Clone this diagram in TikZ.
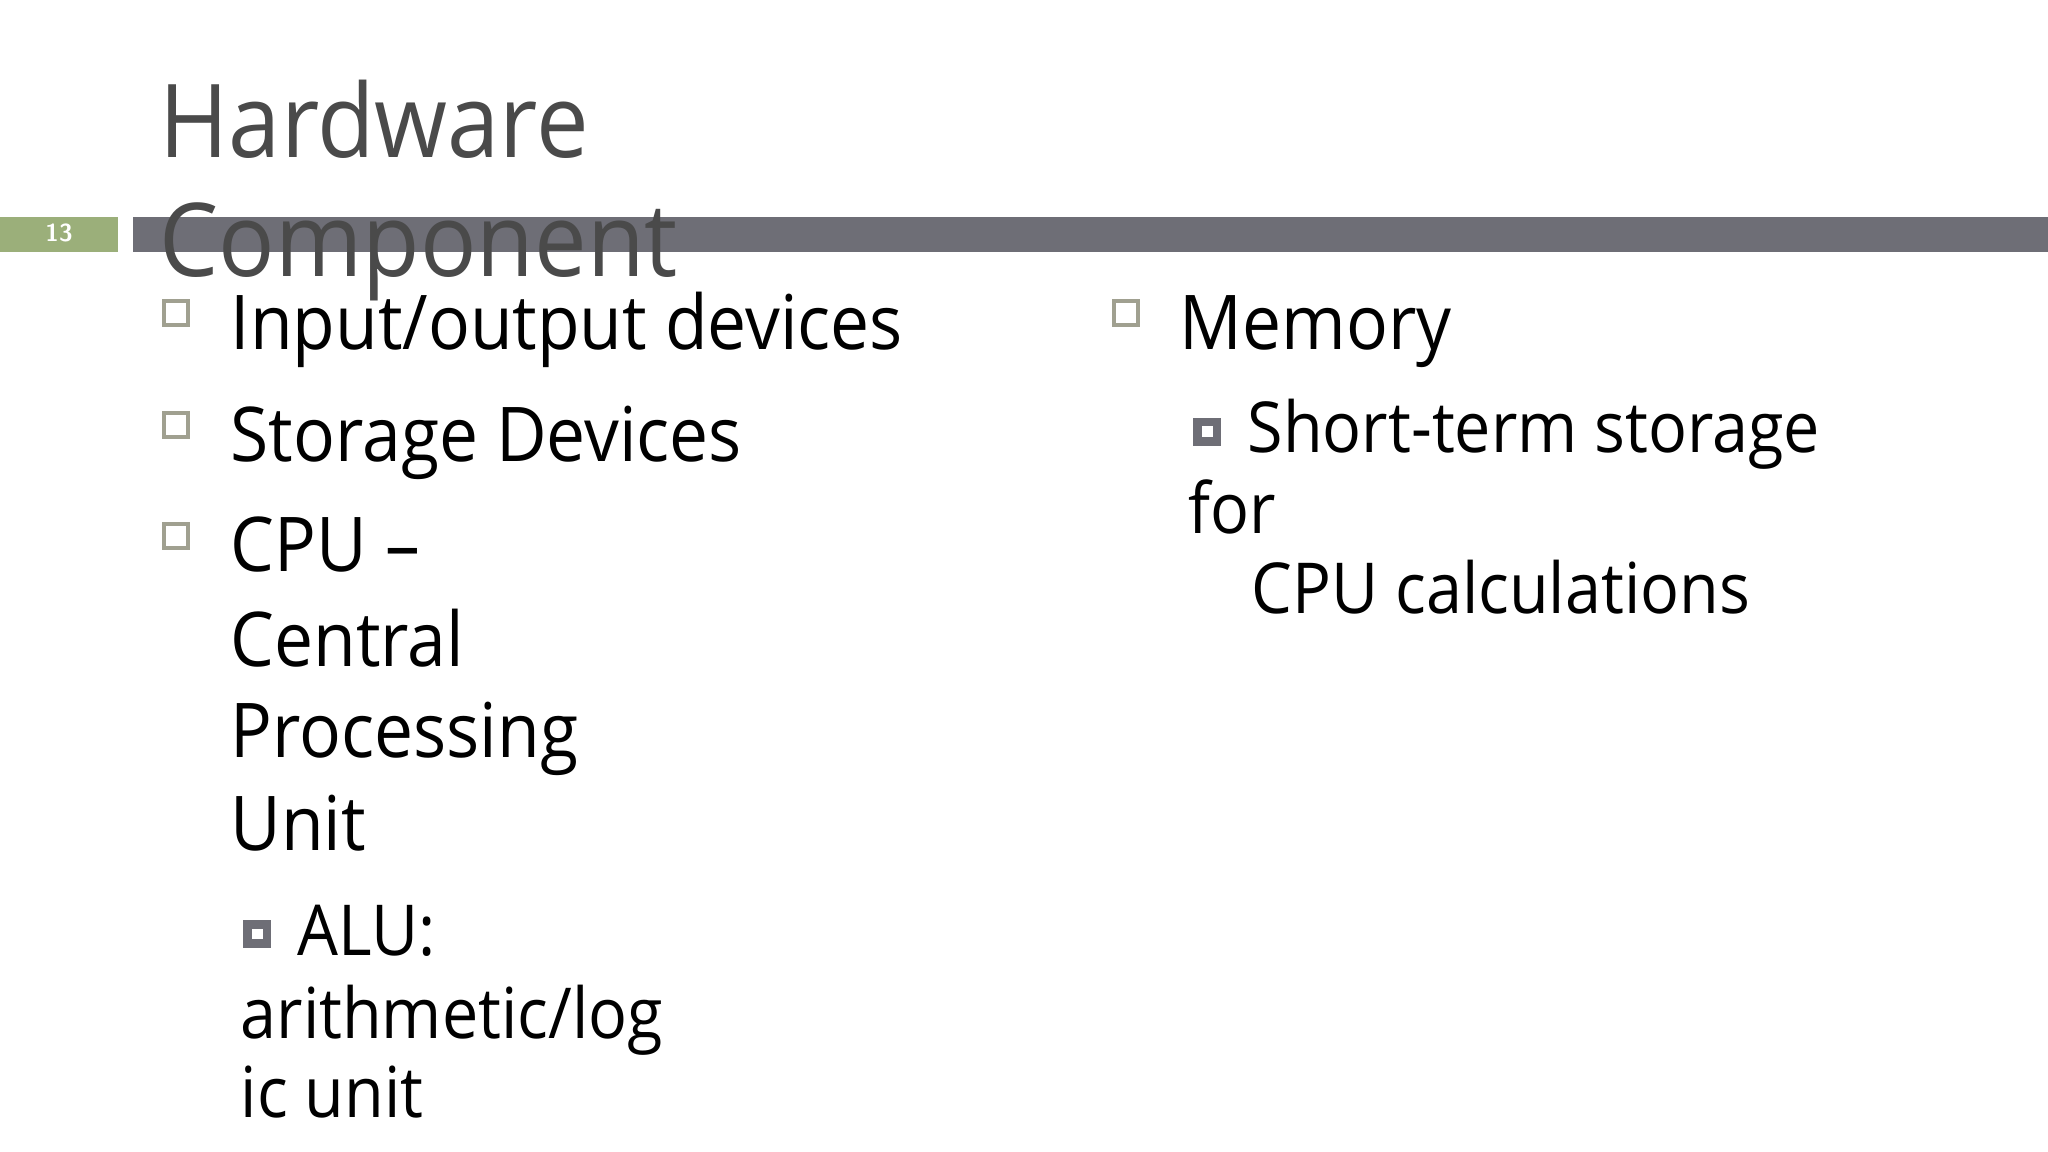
\documentclass[tikz,border=0pt]{standalone}
\usepackage{fontspec}
\setmainfont{Open Sans}[FakeStretch=0.92]
\definecolor{barg}{HTML}{6E6E76}
\definecolor{green1}{HTML}{9BAF7A}
\definecolor{titlec}{HTML}{4A4A4A}
\definecolor{bulc}{HTML}{A0A090}
\begin{document}
\begin{tikzpicture}
\tikzset{
 txt/.style={anchor=base west,inner sep=0pt,font=\fontsize{21.5}{26}\selectfont,text=black},
 subtxt/.style={anchor=base west,inner sep=0pt,font=\fontsize{20}{24}\selectfont,text=black},
 hbul/.style={draw=bulc,line width=0.9pt,minimum size=0.24cm,inner sep=0pt},
 fbul/.style={fill=barg,minimum size=0.28cm,inner sep=0pt,path picture={\fill[white] ([shift={(-0.055,-0.055)}]path picture bounding box.center) rectangle ([shift={(0.055,0.055)}]path picture bounding box.center);}},
}
\useasboundingbox (0,0) rectangle (20.48,-11.52);
\fill[white] (0,0) rectangle (20.48,-11.52);
\fill[green1] (0,-2.17) rectangle (1.18,-2.52);
\node[text=white,font=\sffamily\bfseries\fontsize{7}{8}\selectfont] (num) at (0.59,-2.33) {13};
\fill[barg] (1.33,-2.17) rectangle (20.48,-2.52);
\node[anchor=base west,inner sep=0pt,text=titlec,font=\fontsize{29}{34}\selectfont] (t1) at (1.59,-1.58) {Hardware};
\node[anchor=base west,inner sep=0pt,text=titlec,font=\fontsize{29}{34}\selectfont] (t2) at (1.59,-2.77) {Component};
\node[hbul] (b1) at (1.76,-3.13) {};
\node[txt] (l1) at (2.30,-3.50) {Input/output devices};
\node[hbul] (b2) at (1.76,-4.25) {};
\node[txt] (l2) at (2.30,-4.62) {Storage Devices};
\node[hbul] (b3) at (1.76,-5.36) {};
\node[txt] (l3) at (2.30,-5.72) {CPU –};
\node[txt] (l4) at (2.30,-6.66) {Central};
\node[txt] (l5) at (2.30,-7.57) {Processing};
\node[txt] (l6) at (2.30,-8.51) {Unit};
\node[fbul] (s1) at (2.57,-9.34) {};
\node[subtxt] (a1) at (2.97,-9.56) {ALU:};
\node[subtxt] (a2) at (2.40,-10.38) {arithmetic/log};
\node[subtxt] (a3) at (2.40,-11.17) {ic unit};
\node[hbul] (b4) at (11.26,-3.13) {};
\node[txt] (m1) at (11.79,-3.50) {Memory};
\node[fbul] (s2) at (12.07,-4.32) {};
\node[subtxt] (m2) at (12.47,-4.53) {Short-term storage};
\node[subtxt] (m3) at (11.88,-5.33) {for};
\node[subtxt] (m4) at (12.51,-6.14) {CPU calculations};
\end{tikzpicture}
\end{document}
